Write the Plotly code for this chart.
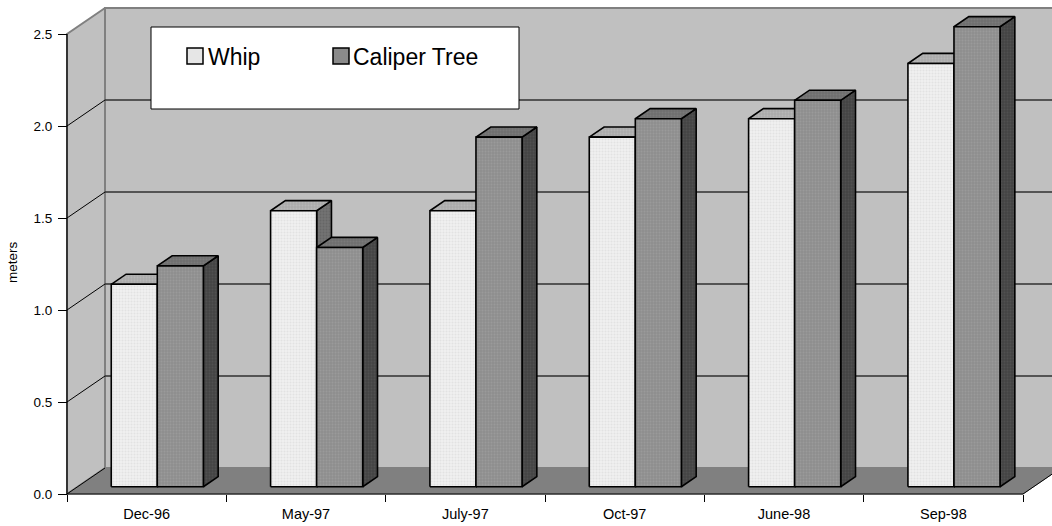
import plotly.graph_objects as go

# Monthly tree heights (meters)
categories = ["Dec-96", "May-97", "July-97", "Oct-97", "June-98", "Sep-98"]
whip = [1.1, 1.5, 1.5, 1.9, 2.0, 2.3]
caliper = [1.2, 1.3, 1.9, 2.0, 2.1, 2.5]
y_ticks = [0.0, 0.5, 1.0, 1.5, 2.0, 2.5]

FONT = "Arial, Liberation Sans, sans-serif"

# pixel scale of the axes (px per category, px per meter)
SX = 956 / 6
SY = 184.0
ORIGIN_X, ORIGIN_Y = 67, 494
W_PX, H_PX = 1052, 526
M_L, M_B = 40, 20

# oblique depth offset of the 3-D box, expressed in axis units
DX = 38 / SX
DY = 26 / SY
YMAX = max(y_ticks)
NCAT = len(categories)

# bar geometry: width of one bar (category units) and its depth band
BAR_W = 0.289
D1, D2 = 0.28, 0.67

x_min = (M_L - ORIGIN_X) / SX
x_max = (W_PX - ORIGIN_X) / SX
y_max = ORIGIN_Y / SY
y_min = -(H_PX - M_B - ORIGIN_Y) / SY


def proj(x, v, d):
    return x + d * DX, v + d * DY


def px_x(p):
    return (p - ORIGIN_X) / SX


def px_y(p):
    return (ORIGIN_Y - p) / SY


def paper_x(p):
    return (p - M_L) / (W_PX - M_L)


def paper_y(p):
    return (H_PX - M_B - p) / (H_PX - M_B)


def poly_trace(polys, fill, line_color="black", line_width=1.6, pattern=None):
    xs, ys = [], []
    for pts in polys:
        for (a, b) in pts + [pts[0]]:
            xs.append(a)
            ys.append(b)
        xs.append(None)
        ys.append(None)
    kw = dict(x=xs, y=ys, mode="lines", fill="toself", fillcolor=fill,
              line=dict(color=line_color, width=line_width),
              hoverinfo="skip", showlegend=False)
    if pattern:
        kw["fillpattern"] = pattern
    return go.Scatter(**kw)


def line_trace(segs, color, width):
    xs, ys = [], []
    for (p, q) in segs:
        xs += [p[0], q[0], None]
        ys += [p[1], q[1], None]
    return go.Scatter(x=xs, y=ys, mode="lines", line=dict(color=color, width=width),
                      hoverinfo="skip", showlegend=False)


fig = go.Figure()

# walls and floor
left_wall = [proj(0, 0, 0), proj(0, 0, 1), proj(0, YMAX, 1), proj(0, YMAX, 0)]
back_wall = [proj(0, 0, 1), proj(NCAT, 0, 1), proj(NCAT, YMAX, 1), proj(0, YMAX, 1)]
floor = [proj(0, 0, 0), proj(NCAT, 0, 0), proj(NCAT, 0, 1), proj(0, 0, 1)]

fig.add_trace(poly_trace([back_wall], "#C0C0C0", "#808080", 2))
fig.add_trace(poly_trace([left_wall], "#C0C0C0", "#808080", 2))

# gridlines: diagonal on the side wall, horizontal on the back wall
grid_vals = [v for v in y_ticks if 0 < v < YMAX]
fig.add_trace(line_trace([(proj(0, v, 1), proj(NCAT, v, 1)) for v in grid_vals], "#303030", 1.3))
fig.add_trace(line_trace([(proj(0, v, 0), proj(0, v, 1)) for v in grid_vals], "black", 1))

fig.add_trace(poly_trace([floor], "#808080", "#808080", 1))
fig.add_trace(line_trace([(proj(0, 0, 0), proj(0, 0, 1)),
                          (proj(NCAT, 0, 0), proj(NCAT, 0, 1))], "black", 1))

# bars: side, top and front faces for each series
series = [
    (whip, 0, dict(front="#EFEFEF", top="#ABABAB", side="#727272",
                   fg_front="#D6D6D6", fg_top="#C4C4C4", fg_side="#5A5A5A")),
    (caliper, 1, dict(front="#8E8E8E", top="#6E6E6E", side="#444444",
                      fg_front="#A6A6A6", fg_top="#868686", fg_side="#5C5C5C")),
]
for values, s, c in series:
    fronts, tops, sides = [], [], []
    for i, v in enumerate(values):
        xl = i + 0.5 - BAR_W + s * BAR_W
        xr = xl + BAR_W
        fronts.append([proj(xl, 0, D1), proj(xr, 0, D1), proj(xr, v, D1), proj(xl, v, D1)])
        tops.append([proj(xl, v, D1), proj(xr, v, D1), proj(xr, v, D2), proj(xl, v, D2)])
        sides.append([proj(xr, 0, D1), proj(xr, 0, D2), proj(xr, v, D2), proj(xr, v, D1)])
    fig.add_trace(poly_trace(sides, c["side"], pattern=dict(
        shape=".", bgcolor=c["side"], fgcolor=c["fg_side"], size=3, solidity=0.35)))
    fig.add_trace(poly_trace(tops, c["top"], pattern=dict(
        shape=".", bgcolor=c["top"], fgcolor=c["fg_top"], size=3, solidity=0.35)))
    fig.add_trace(poly_trace(fronts, c["front"], pattern=dict(
        shape=".", bgcolor=c["front"], fgcolor=c["fg_front"], size=3, solidity=0.35)))

# front edges of the box (value axis and category axis lines)
fig.add_trace(line_trace([((0, 0), (0, YMAX)), ((0, 0), (NCAT, 0))], "black", 1.2))

# legend box
shapes = [
    dict(type="rect", xref="x", yref="y", x0=px_x(151), x1=px_x(519),
         y0=px_y(109), y1=px_y(27), fillcolor="white",
         line=dict(color="black", width=1), layer="above"),
    dict(type="rect", xref="x", yref="y", x0=px_x(187), x1=px_x(203),
         y0=px_y(64), y1=px_y(48), fillcolor="#E6E6E6",
         line=dict(color="black", width=1.5), layer="above"),
    dict(type="rect", xref="x", yref="y", x0=px_x(333), x1=px_x(349),
         y0=px_y(64), y1=px_y(48), fillcolor="#8A8A8A",
         line=dict(color="black", width=1.5), layer="above"),
]
annotations = [
    dict(text="Whip", x=px_x(206), y=px_y(57), xref="x", yref="y",
         xanchor="left", yanchor="middle", showarrow=False,
         font=dict(family=FONT, size=23, color="black")),
    dict(text="Caliper Tree", x=px_x(351), y=px_y(57), xref="x", yref="y",
         xanchor="left", yanchor="middle", showarrow=False,
         font=dict(family=FONT, size=23, color="black")),
    dict(text="meters", x=paper_x(12), y=paper_y(262), xref="paper", yref="paper",
         textangle=-90, xanchor="center", yanchor="middle", showarrow=False,
         font=dict(family=FONT, size=13.5, color="black")),
]

fig.update_layout(
    width=W_PX, height=H_PX,
    margin=dict(l=M_L, r=0, t=0, b=M_B, pad=0),
    paper_bgcolor="white", plot_bgcolor="white",
    showlegend=False,
    shapes=shapes, annotations=annotations,
    xaxis=dict(
        range=[x_min, x_max], showgrid=False, zeroline=False, showline=False,
        anchor="free", position=(0 - y_min) / (y_max - y_min),
        tickmode="array", tickvals=[i + 0.5 for i in range(NCAT)], ticktext=categories,
        ticks="", tickfont=dict(family=FONT, size=14.5, color="black"),
        minor=dict(tickmode="array", tickvals=list(range(NCAT + 1)), ticks="outside",
                   ticklen=7, tickcolor="black", tickwidth=1, showgrid=False),
        ticklabelstandoff=9,
    ),
    yaxis=dict(
        range=[y_min, y_max], showgrid=False, zeroline=False, showline=False,
        anchor="free", position=(0 - x_min) / (x_max - x_min),
        tickmode="array", tickvals=y_ticks, tickformat=".1f",
        ticks="outside", ticklen=9, tickcolor="black", tickwidth=1,
        tickfont=dict(family=FONT, size=13.5, color="black"),
        ticklabelstandoff=3,
    ),
)

fig.write_html("out.html")
